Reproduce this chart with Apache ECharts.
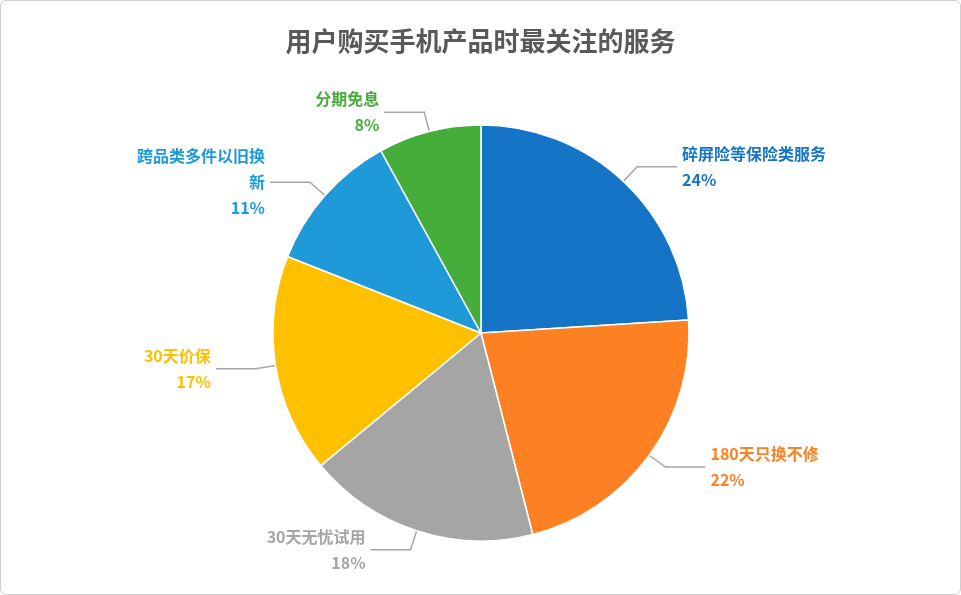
<!DOCTYPE html>
<html><head><meta charset="utf-8">
<script src="https://cdn.jsdelivr.net/npm/echarts@6/dist/echarts.min.js"></script>
<style>html,body{margin:0;padding:0;background:#fff}#c{width:959px;height:593px;border:1px solid #d0d0d0;border-radius:6px}</style>
</head><body><div id="c"></div>
<script>
const categories = ['碎屏险等保险类服务','180天只换不修','30天无忧试用','30天价保','跨品类多件以旧换\n新','分期免息'];
const values = [24,22,18,17,11,8];
const colors = ['#1674c6','#fd8023','#a5a5a5','#ffc000','#1f9ad9','#45ad3a'];
const chart = echarts.init(document.getElementById('c'));
chart.setOption({
  title:{text:'用户购买手机产品时最关注的服务',left:'center',top:22,textStyle:{fontFamily:'Noto Sans CJK SC',fontSize:26,fontWeight:'bold',color:'#595959'}},
  series:[{
    type:'pie',center:[480,332],radius:208,startAngle:90,clockwise:true,
    data:categories.map((n,i)=>({name:n,value:values[i],itemStyle:{color:colors[i]},label:{color:colors[i]}})),
    itemStyle:{borderColor:'#fff',borderWidth:1.5},
    label:{formatter:'{b}\n{d}%',fontFamily:'Noto Sans CJK SC',fontSize:16,fontWeight:'bold',lineHeight:26,align:'center'},
    labelLine:{length:20,length2:40,lineStyle:{color:'#a6a6a6',width:1.5}}
  }]
});
</script></body></html>
